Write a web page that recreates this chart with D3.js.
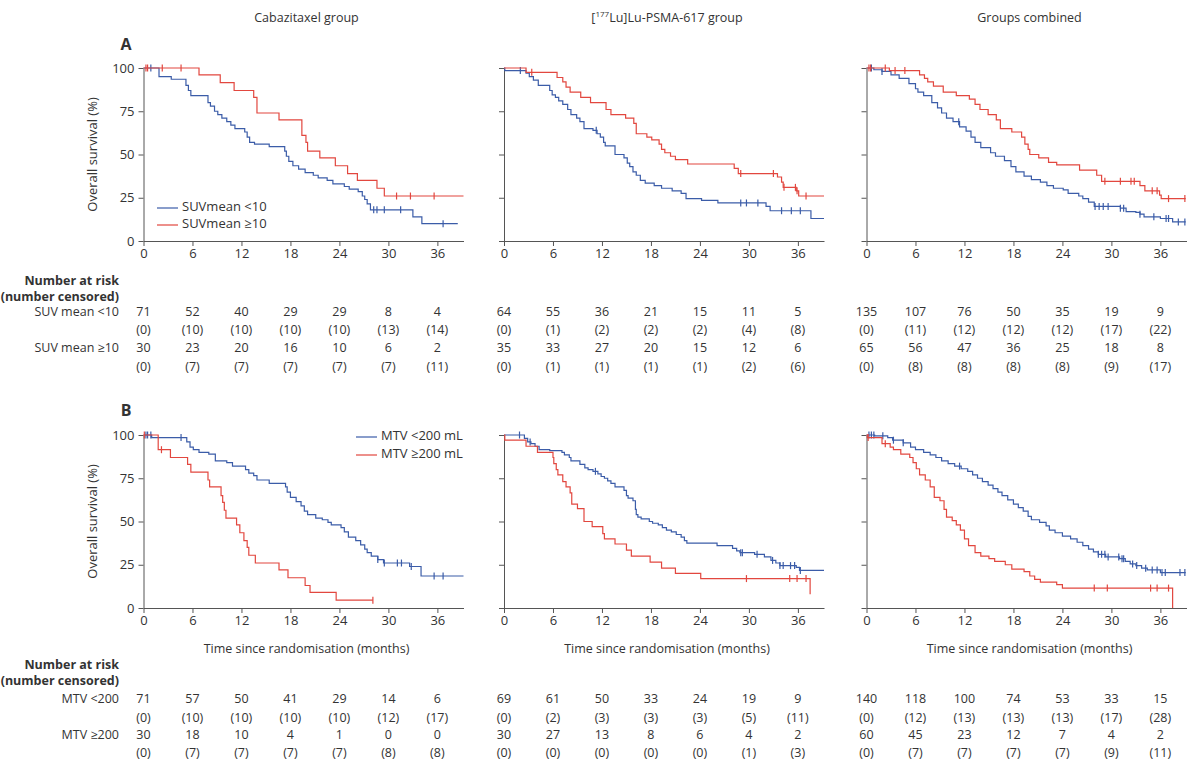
<!DOCTYPE html>
<html lang="en">
<head>
  <meta charset="utf-8">
  <title>Overall survival by SUVmean and MTV</title>
  <style>
    body { margin: 0; background: #fff; }
    svg { display: block; font-family: "Open Sans", sans-serif; }
    .axis path, .axis line { stroke: #555; }
    .axis text { fill: #333; font-size: 13px; font-family: "Open Sans", sans-serif; }
  </style>
  <script src="https://d3js.org/d3.v7.min.js"></script>
</head>
<body>
<script>
// ---- data ----
const months = [0, 6, 12, 18, 24, 30, 36]
const yTicks = [0, 25, 50, 75, 100]

// panel A, cabazitaxel group
const a1Low = [[0,100],[1.9,95],[3.4,93.5],[5.2,90],[5.5,87],[5.8,84],[7.9,80],[8.2,78],[8.7,75],[9.1,73],[9.6,71],[10.2,69],[10.7,67],[11.2,65],[12.4,63],[12.7,60],[13.0,57],[13.6,56],[15.4,54.5],[17.3,52],[17.5,49],[17.8,46],[18.3,43.5],[19.0,41.5],[19.8,39.5],[20.8,38],[21.4,36.5],[22.5,35],[23.2,33],[24.6,31.5],[25.2,30],[26.3,28.5],[26.8,26],[27.1,24],[27.4,21.5],[27.8,18],[33.0,14],[34.1,10],[38.5,10]]
const a1LowCens = [0.9, 28.2, 28.6, 29.5, 31.5, 36.7]
const a1High = [[0,100],[6.8,96],[9.4,91.5],[11.1,87],[13.5,83],[13.9,74],[16.6,70],[19.4,61],[19.9,57],[20.1,52],[21.6,48],[23.5,43.5],[25.0,39],[26.2,35],[28.6,30.5],[29.5,26],[39.2,26]]
const a1HighCens = [0.3, 0.5, 2.3, 4.6, 31.0, 32.7, 35.6]

// panel A, [177Lu]Lu-PSMA-617 group
const a2Low = [[0,100],[0.1,98.5],[2.7,97],[3.1,95],[3.6,93],[4.2,90],[5.6,87],[5.9,84.5],[6.3,83],[6.7,81],[7.2,79],[7.8,76],[8.2,73],[8.9,71],[9.3,69],[9.8,65],[10.9,64],[11.4,62],[11.8,60],[12.2,57],[12.4,55],[13.6,50],[14.7,48],[15.1,45],[15.4,43],[15.8,40],[16.2,38],[16.7,35],[17.3,33.5],[18.4,32],[19.3,30.5],[20.6,29],[21.7,27.5],[22.3,24.5],[24.2,23.5],[26.2,22],[32.1,20],[32.6,17.5],[37.6,13],[39.2,13]]
const a2LowCens = [2.0, 11.3, 29.0, 29.7, 31.1, 34.0, 35.2, 36.3]
const a2High = [[0,100],[2.7,97.5],[6.5,94.5],[7.2,92],[7.6,89],[8.1,86],[9.4,83],[10.6,80],[12.5,76],[13.1,73],[14.9,71],[15.9,68],[16.2,62],[17.5,60],[18.1,58.5],[19.0,56],[19.3,53],[19.7,51],[20.4,49],[21.0,47],[22.5,44.5],[28.2,42],[28.7,39],[33.5,37],[34.0,34],[34.2,31],[35.8,29],[36.1,26],[39.2,26]]
const a2HighCens = [3.4, 29.0, 33.0, 34.3, 35.7, 35.9, 37.0]

// panel A, groups combined
const a3Low = [[0,100],[0.9,99],[1.9,98],[3.0,96],[4.0,94],[5.2,91],[6.0,88],[6.3,86],[7.0,84],[8.0,80],[8.7,77],[9.2,74],[9.8,71],[10.6,69],[11.4,66],[12.2,63.5],[12.8,60],[13.3,57],[14.0,54],[15.2,51],[15.8,49],[16.9,46.5],[17.7,43],[18.3,40],[19.3,37.5],[20.2,35.5],[21.3,34],[22.1,32],[22.9,30.5],[24.1,29.5],[24.7,27.5],[26.0,26],[26.5,24.5],[27.2,22.5],[27.9,20],[31.1,19],[31.8,17],[33.0,16.5],[33.5,15.5],[34.0,14],[36.0,13],[37.5,11],[39.1,11]]
const a3LowCens = [0.6, 1.9, 11.3, 28.0, 28.5, 29.0, 29.6, 31.1, 31.5, 33.5, 35.2, 36.7, 37.0, 38.2, 39.0]
const a3High = [[0,100],[2.8,98.5],[6.5,96],[7.1,94],[7.5,92],[8.2,89.5],[9.4,86],[11.0,84],[12.6,82],[13.3,79],[13.9,76],[14.9,73],[15.9,70],[16.4,65],[17.8,63],[19.0,60],[19.4,56],[19.8,53],[20.0,50],[21.1,48],[22.3,45.5],[23.3,44],[26.1,41],[28.2,38],[28.8,34.5],[33.5,32],[34.1,29],[35.9,26.5],[36.1,24.5],[39.1,24.5]]
const a3HighCens = [0.3, 0.5, 2.3, 3.5, 4.7, 29.2, 31.1, 32.4, 32.8, 35.0, 35.6, 37.0, 39.0]

// panel B, cabazitaxel group
const b1Low = [[0,100],[1.0,98.5],[5.3,96],[5.7,93],[6.1,91.5],[6.8,90],[8.0,89],[8.8,85],[10.2,84],[10.9,82],[12.5,80],[12.9,78],[13.5,76.5],[13.9,74],[15.4,72],[17.4,70],[17.6,67],[18.0,64],[18.7,61.5],[19.3,59],[19.7,56],[20.1,54],[21.1,52],[21.9,51],[22.6,49.5],[23.0,48],[24.2,46.5],[24.6,44],[25.1,41],[26.0,39],[26.6,36.5],[27.1,34],[27.4,32],[27.9,30],[28.7,28],[29.4,26],[32.6,24],[34.0,18.5],[39.2,18.5]]
const b1LowCens = [0.3, 0.5, 0.9, 4.6, 28.7, 29.5, 31.1, 31.6, 32.8, 35.6, 36.7]
const b1High = [[0,100],[1.8,91.5],[3.3,87],[5.4,83],[5.8,78.5],[7.9,74],[8.1,70],[9.5,65],[9.7,61],[9.9,56.5],[10.1,52],[11.4,48],[11.8,43.5],[12.3,39],[12.7,35],[12.9,30.5],[13.7,26],[16.6,22],[17.7,17.5],[19.8,13],[20.4,9],[23.6,4.5],[28.1,4.5]]
const b1HighCens = [0.1, 2.2, 28.1]

// panel B, [177Lu]Lu-PSMA-617 group
const b2Low = [[0,100],[2.5,98],[2.9,96],[3.3,95],[3.8,93.5],[4.3,91.5],[5.6,91],[7.1,90],[7.4,88.5],[8.0,87],[8.2,85],[9.3,83],[9.9,81],[10.3,80],[10.9,79],[11.5,77.5],[11.9,76],[12.3,75],[12.7,73.5],[13.1,72],[13.6,70],[14.7,68],[15.0,65],[15.2,63.5],[15.8,62],[16.1,57],[16.2,54],[16.4,52.5],[16.8,51.5],[17.8,50],[18.2,49],[18.9,48],[19.4,46.5],[19.9,45],[20.5,44],[21.1,42.5],[21.7,41],[22.1,39],[22.4,37.5],[26.1,36],[28.0,34.5],[28.5,33],[28.9,32],[30.7,31],[31.9,29.5],[32.7,27.5],[33.3,26],[33.8,24.5],[35.8,23.5],[36.2,21.7],[39.2,21.7]]
const b2LowCens = [1.9, 3.2, 11.2, 29.0, 29.2, 31.0, 32.9, 33.8, 34.2, 35.1, 35.6, 36.3]
const b2High = [[0,100],[0.1,97],[2.7,93.5],[4.1,90],[6.0,87],[6.1,83.5],[6.4,80],[6.6,77],[7.2,73],[7.6,70],[8.1,66.5],[8.3,60],[9.0,57.5],[9.8,50],[10.8,47],[12.1,43],[12.3,40],[13.6,37],[15.0,33.5],[15.6,30],[17.9,26.5],[19.3,23],[21.0,20],[24.1,17],[37.5,8]]
const b2HighCens = [29.7, 35.0, 35.9, 37.0]

// panel B, groups combined
const b3Low = [[0,100],[1.0,99.5],[2.6,98.5],[3.2,97],[4.5,95.5],[5.4,93],[6.0,91.5],[7.0,90],[7.8,88.5],[8.5,87],[9.2,85],[10.0,83.5],[10.8,82],[11.6,80.5],[12.4,79],[13.0,77],[13.6,75],[14.2,73],[14.9,71],[15.5,69],[16.1,67],[16.6,65],[17.3,62.5],[18.0,60],[18.6,58],[19.2,56],[19.8,53],[20.2,51],[21.2,49.5],[22.0,47.5],[22.4,45],[23.1,43.5],[24.0,41.5],[25.0,40],[25.8,38],[26.5,36],[27.2,34],[27.8,32.5],[28.4,31],[29.3,29.5],[31.0,28.5],[31.7,27],[32.3,25.5],[33.0,24.5],[33.7,23],[34.4,22],[36.0,20.5],[39.1,20.5]]
const b3LowCens = [0.3, 0.6, 0.9, 2.0, 3.3, 4.5, 11.4, 28.4, 28.8, 29.2, 29.6, 30.9, 31.3, 31.5, 32.6, 33.1, 34.2, 35.0, 35.6, 36.2, 36.6, 38.4, 39.0]
const b3High = [[0,100],[0.1,98.5],[1.9,95],[2.9,93],[3.3,91.5],[4.2,89],[5.3,87],[5.7,84],[6.1,80.5],[6.5,77],[7.2,74],[7.8,70],[8.3,64],[9.0,62],[9.5,57],[9.8,52.5],[10.5,50.5],[11.0,48],[11.5,45],[12.0,40],[12.5,36],[13.3,32],[14.0,30],[15.0,28.5],[15.7,27],[17.0,25],[17.8,22.5],[19.3,21],[20.0,18.5],[20.6,16.5],[21.3,15],[23.3,13.5],[24.0,11.5],[37.5,0]]
const b3HighCens = [0.2, 2.3, 27.9, 29.5, 34.8, 35.6, 37.0]

// numbers at risk (censored)
const riskA1Low = [71, 52, 40, 29, 29, 8, 4],        censA1Low = [0, 10, 10, 10, 10, 13, 14]
const riskA1High = [30, 23, 20, 16, 10, 6, 2],       censA1High = [0, 7, 7, 7, 7, 7, 11]
const riskA2Low = [64, 55, 36, 21, 15, 11, 5],       censA2Low = [0, 1, 2, 2, 2, 4, 8]
const riskA2High = [35, 33, 27, 20, 15, 12, 6],      censA2High = [0, 1, 1, 1, 1, 2, 6]
const riskA3Low = [135, 107, 76, 50, 35, 19, 9],     censA3Low = [0, 11, 12, 12, 12, 17, 22]
const riskA3High = [65, 56, 47, 36, 25, 18, 8],      censA3High = [0, 8, 8, 8, 8, 9, 17]
const riskB1Low = [71, 57, 50, 41, 29, 14, 6],       censB1Low = [0, 10, 10, 10, 10, 12, 17]
const riskB1High = [30, 18, 10, 4, 1, 0, 0],         censB1High = [0, 7, 7, 7, 7, 8, 8]
const riskB2Low = [69, 61, 50, 33, 24, 19, 9],       censB2Low = [0, 2, 3, 3, 3, 5, 11]
const riskB2High = [30, 27, 13, 8, 6, 4, 2],         censB2High = [0, 0, 0, 0, 0, 1, 3]
const riskB3Low = [140, 118, 100, 74, 53, 33, 15],   censB3Low = [0, 12, 13, 13, 13, 17, 28]
const riskB3High = [60, 45, 23, 12, 7, 4, 2],        censB3High = [0, 7, 7, 7, 7, 9, 11]

const groupTitles = ["Cabazitaxel group", "[177Lu]Lu-PSMA-617 group", "Groups combined"]
const legendA = ["SUVmean <10", "SUVmean \u226510"]
const legendB = ["MTV <200 mL", "MTV \u2265200 mL"]
const rowLabelsA = ["SUV mean <10", "SUV mean \u226510"]
const rowLabelsB = ["MTV <200", "MTV \u2265200"]

// ---- layout ----
let width = 1200
let height = 771
let colX = [143.5, 504, 866.5]
let plotW = 320
let plotH = 173
let rowY = { A: 68, B: 435 }
let blue = "#3b5ca8"
let red = "#e2473f"
let textCol = "#333"

let panels = [
  { row: "A", col: 0, low: a1Low, lowC: a1LowCens, high: a1High, highC: a1HighCens, rl: riskA1Low, cl: censA1Low, rh: riskA1High, ch: censA1High },
  { row: "A", col: 1, low: a2Low, lowC: a2LowCens, high: a2High, highC: a2HighCens, rl: riskA2Low, cl: censA2Low, rh: riskA2High, ch: censA2High },
  { row: "A", col: 2, low: a3Low, lowC: a3LowCens, high: a3High, highC: a3HighCens, rl: riskA3Low, cl: censA3Low, rh: riskA3High, ch: censA3High },
  { row: "B", col: 0, low: b1Low, lowC: b1LowCens, high: b1High, highC: b1HighCens, rl: riskB1Low, cl: censB1Low, rh: riskB1High, ch: censB1High },
  { row: "B", col: 1, low: b2Low, lowC: b2LowCens, high: b2High, highC: b2HighCens, rl: riskB2Low, cl: censB2Low, rh: riskB2High, ch: censB2High },
  { row: "B", col: 2, low: b3Low, lowC: b3LowCens, high: b3High, highC: b3HighCens, rl: riskB3Low, cl: censB3Low, rh: riskB3High, ch: censB3High }
]

let xScale = d3.scaleLinear().domain([0, 39.2]).range([0, plotW])
let yScale = d3.scaleLinear().domain([0, 100]).range([plotH, 0])

let svg = d3.select("body").append("svg")
  .attr("width", width)
  .attr("height", height)

// value of a step curve at time t
let survAt = (pts, t) => {
  let v = pts[0][1]
  pts.forEach(p => { if (p[0] <= t) v = p[1] })
  return v
}

let stepLine = d3.line()
  .x(d => xScale(d[0]))
  .y(d => yScale(d[1]))
  .curve(d3.curveStepAfter)

let txt = (sel, x, y, s, opts = {}) => sel.append("text")
  .attr("x", x).attr("y", y)
  .attr("text-anchor", opts.anchor || "middle")
  .attr("dominant-baseline", "middle")
  .attr("font-size", opts.size || 12.5)
  .attr("font-weight", opts.weight || "normal")
  .attr("fill", textCol)
  .text(s)

// column titles
groupTitles.forEach((t, i) => {
  let cx = colX[i] + plotW / 2 + 3
  if (i === 1) {
    let el = svg.append("text")
      .attr("x", cx).attr("y", 22)
      .attr("text-anchor", "middle")
      .attr("font-size", 12.5)
      .attr("fill", textCol)
    el.append("tspan").text("[")
    el.append("tspan").attr("font-size", 8).attr("dy", -5).text("177")
    el.append("tspan").attr("dy", 5).text(t.replace("[177", ""))
  } else {
    svg.append("text")
      .attr("x", cx).attr("y", 22)
      .attr("text-anchor", "middle")
      .attr("font-size", 12.5)
      .attr("fill", textCol)
      .text(t)
  }
})

txt(svg, 126, 46, "A", { size: 16, weight: "bold" })
txt(svg, 126, 412, "B", { size: 16, weight: "bold" })

let drawPanel = (p) => {
  let g = svg.append("g")
    .attr("transform", `translate(${colX[p.col]}, ${rowY[p.row]})`)

  g.append("g").attr("class", "axis")
    .attr("transform", `translate(0, ${plotH})`)
    .call(d3.axisBottom(xScale).tickValues(months).tickSize(5).tickSizeOuter(0).tickPadding(3))

  g.append("g").attr("class", "axis")
    .call(d3.axisLeft(yScale).tickValues(yTicks).tickSize(5).tickSizeOuter(0).tickPadding(4)
      .tickFormat(p.col === 0 ? d3.format("d") : () => ""))

  let curves = [
    { pts: p.low, cens: p.lowC, color: blue },
    { pts: p.high, cens: p.highC, color: red }
  ]
  // red first in panel A so blue sits on top where they overlap
  curves.forEach(c => {
    g.append("path")
      .attr("d", stepLine(c.pts))
      .attr("fill", "none")
      .attr("stroke", c.color)
      .attr("stroke-width", 1.2)

    g.selectAll(null)
      .data(c.cens)
      .enter()
      .append("line")
      .attr("x1", d => xScale(d)).attr("x2", d => xScale(d))
      .attr("y1", d => yScale(survAt(c.pts, d)) - 3.5)
      .attr("y2", d => yScale(survAt(c.pts, d)) + 3.5)
      .attr("stroke", c.color)
      .attr("stroke-width", 1.2)
  })

  if (p.col === 0) {
    g.append("text")
      .attr("transform", `translate(-50, ${plotH / 2}) rotate(-90)`)
      .attr("text-anchor", "middle")
      .attr("dominant-baseline", "middle")
      .attr("font-size", 13)
      .attr("fill", textCol)
      .text("Overall survival (%)")
  }

  // risk table
  let base = p.row === "A" ? 313 : 700
  let rowGap = p.row === "A" ? [0, 18, 36, 55] : [0, 19, 36, 54]
  let rows = [p.rl, p.cl.map(v => `(${v})`), p.rh, p.ch.map(v => `(${v})`)]
  rows.forEach((r, ri) => {
    r.forEach((v, i) => {
      txt(svg, colX[p.col] + xScale(months[i]), base + rowGap[ri], v)
    })
  })

  if (p.row === "B") {
    txt(svg, colX[p.col] + plotW / 2 + 3, 650, "Time since randomisation (months)", { size: 12.5 })
  }
}

panels.forEach(drawPanel)

// legends
let drawLegend = (labels, lx, ly, gap) => {
  labels.forEach((l, i) => {
    let c = i === 0 ? blue : red
    svg.append("line")
      .attr("x1", lx).attr("x2", lx + 21)
      .attr("y1", ly + i * gap).attr("y2", ly + i * gap)
      .attr("stroke", c).attr("stroke-width", 1.2)
    txt(svg, lx + 25, ly + i * gap, l, { anchor: "start", size: 13 })
  })
}
drawLegend(legendA, 157, 208, 17)
drawLegend(legendB, 356, 437, 18)

// risk table headers
let headers = [
  { y: 282, rows: rowLabelsA, base: 313, gap: 36 },
  { y: 666, rows: rowLabelsB, base: 700, gap: 36 }
]
headers.forEach(h => {
  txt(svg, 119, h.y, "Number at risk", { anchor: "end", weight: "bold", size: 12.5 })
  txt(svg, 119, h.y + 16, "(number censored)", { anchor: "end", weight: "bold", size: 12.5 })
  h.rows.forEach((r, i) => txt(svg, 119, h.base + i * h.gap, r, { anchor: "end" }))
})
</script>
</body>
</html>
